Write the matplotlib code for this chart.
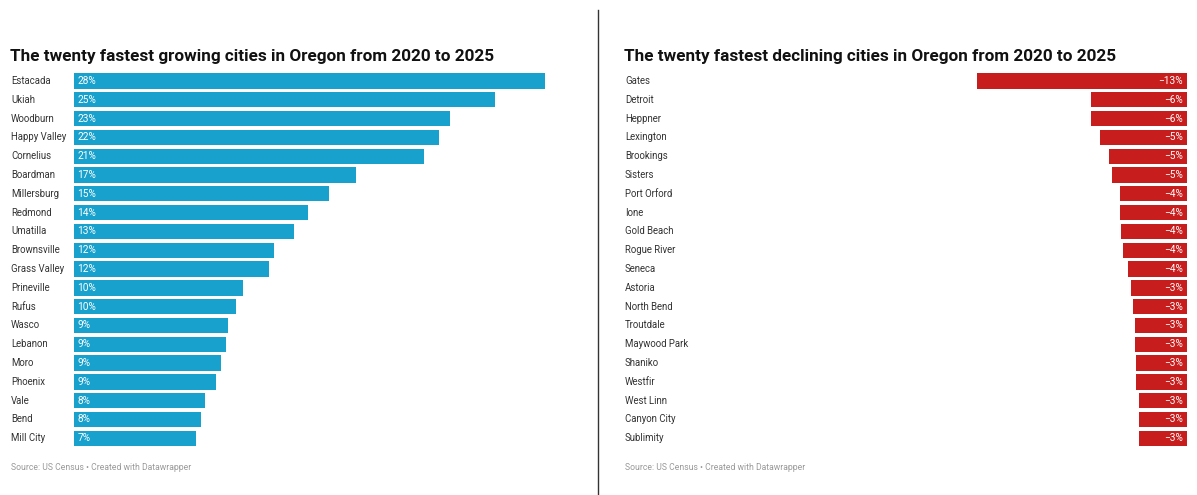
import matplotlib
matplotlib.use("Agg")
import matplotlib.pyplot as plt

plt.rcParams['font.family'] = ['Roboto', 'DejaVu Sans']

grow_cities = ["Estacada", "Ukiah", "Woodburn", "Happy Valley", "Cornelius", "Boardman",
               "Millersburg", "Redmond", "Umatilla", "Brownsville", "Grass Valley", "Prineville",
               "Rufus", "Wasco", "Lebanon", "Moro", "Phoenix", "Vale", "Bend", "Mill City"]
grow_values = [28.4, 25.4, 22.7, 22.0, 21.1, 17.0, 15.4, 14.1, 13.3, 12.1,
               11.8, 10.2, 9.8, 9.3, 9.2, 8.9, 8.6, 7.9, 7.7, 7.4]
grow_labels = ["28%", "25%", "23%", "22%", "21%", "17%", "15%", "14%", "13%", "12%",
               "12%", "10%", "10%", "9%", "9%", "9%", "9%", "8%", "8%", "7%"]

decl_cities = ["Gates", "Detroit", "Heppner", "Lexington", "Brookings", "Sisters",
               "Port Orford", "Ione", "Gold Beach", "Rogue River", "Seneca", "Astoria",
               "North Bend", "Troutdale", "Maywood Park", "Shaniko", "Westfir", "West Linn",
               "Canyon City", "Sublimity"]
decl_values = [-12.65, -5.82, -5.82, -5.24, -4.73, -4.54, -4.05, -4.05, -3.98, -3.87,
               -3.55, -3.37, -3.27, -3.17, -3.17, -3.07, -3.07, -2.89, -2.89, -2.89]
decl_labels = ["−13%", "−6%", "−6%", "−5%", "−5%", "−5%", "−4%", "−4%", "−4%", "−4%",
               "−4%", "−3%", "−3%", "−3%", "−3%", "−3%", "−3%", "−3%", "−3%", "−3%"]

W, H = 1197, 495
BLUE = "#18a1cd"
RED = "#c71e1d"
PX = 16.6  # pixels per percent point

fig = plt.figure(figsize=(W / 100, H / 100), dpi=100)


def px_axes(x0, x1, y0, y1):
    # pixel box (top-left origin) -> figure axes
    return fig.add_axes([x0 / W, 1 - y1 / H, (x1 - x0) / W, (y1 - y0) / H])


def fig_text(x, y, s, **kw):
    fig.text(x / W, 1 - y / H, s, **kw)


top = 81 - 9.4
bottom = 438.3 + 9.4

ax1 = px_axes(73.5, 73.5 + 31 * PX, top, bottom)
ax2 = px_axes(1187.3 - 30 * PX, 1187.3, top, bottom)

rows = range(len(grow_cities))
ax1.barh(rows, grow_values, height=0.815, color=BLUE)
ax1.set_xlim(0, 31)
for i, lab in enumerate(grow_labels):
    ax1.text(0.24, i, lab, color="white", fontsize=7.3, va="center", ha="left")

ax2.barh(rows, decl_values, height=0.815, color=RED)
ax2.set_xlim(-30, 0)
for i, lab in enumerate(decl_labels):
    ax2.text(-0.25, i, lab, color="white", fontsize=7.3, va="center", ha="right")

for ax in (ax1, ax2):
    ax.set_ylim(len(grow_cities) - 0.5, -0.5)
    ax.axis("off")

# city names
for i in rows:
    y = 81 + i * 18.8
    fig_text(11, y, grow_cities[i], fontsize=6.9, color="#333333", va="center", ha="left")
    fig_text(625, y, decl_cities[i], fontsize=6.9, color="#333333", va="center", ha="left")

# titles
fig_text(10, 61.5, "The twenty fastest growing cities in Oregon from 2020 to 2025",
         fontsize=12.3, fontweight="bold", color="#111111", va="baseline")
fig_text(624, 61.5, "The twenty fastest declining cities in Oregon from 2020 to 2025",
         fontsize=12.3, fontweight="bold", color="#111111", va="baseline")

# footers
src = "Source: US Census • Created with Datawrapper"
fig_text(11, 467, src, fontsize=6.2, color="#999999", va="center")
fig_text(625, 467, src, fontsize=6.2, color="#999999", va="center")

# divider
fig.add_artist(plt.Line2D([598.3 / W, 598.3 / W], [1 - 10 / H, 1 - 494 / H],
                          color="#333333", linewidth=1))

fig.savefig("out.png", dpi=100)
